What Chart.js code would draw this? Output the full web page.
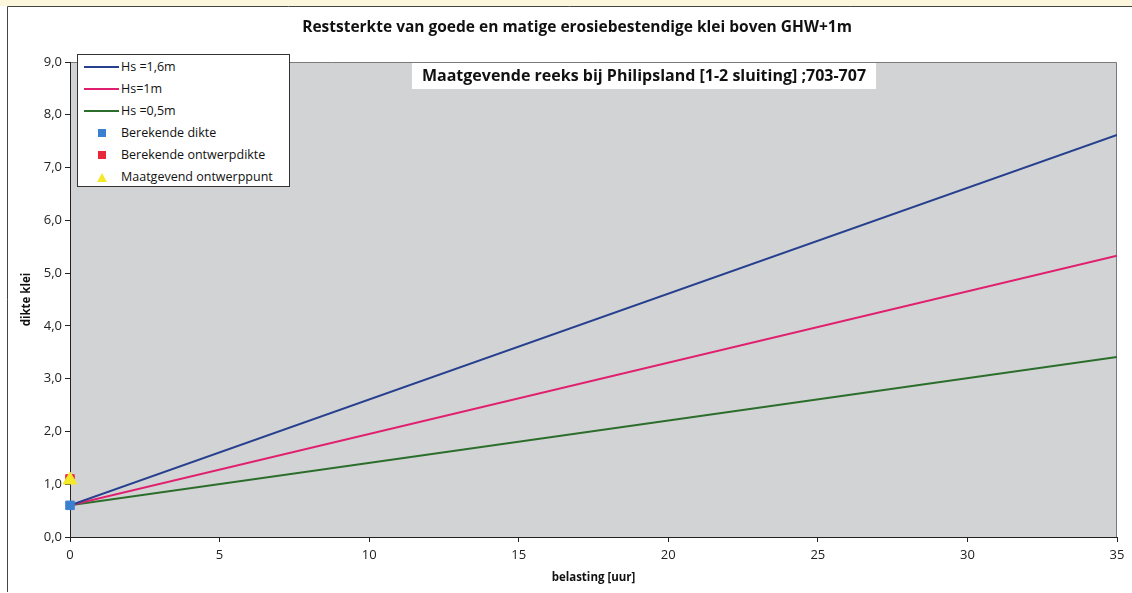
<!DOCTYPE html>
<html><head><meta charset="utf-8">
<script src="https://cdn.jsdelivr.net/npm/chart.js@4/dist/chart.umd.min.js"></script>
<style>
html,body{margin:0;padding:0;background:#fff;}
#wrap{position:relative;width:1132px;height:593px;}
#legend{position:absolute;left:77px;top:54px;width:213px;height:133px;background:#fff;border:1px solid #333;box-sizing:border-box;font:12.5px "Open Sans",sans-serif;color:#111;}
#legend .row{position:absolute;left:0;height:16px;line-height:16px;white-space:nowrap;}
#legend .ln{position:absolute;left:6px;top:7px;width:35px;height:2px;}
#legend .mk{position:absolute;left:20px;top:4px;width:8px;height:8px;}
#legend .tri{position:absolute;left:19px;top:4px;width:0;height:0;border-left:5px solid transparent;border-right:5px solid transparent;border-bottom:9px solid #f5ea2a;}
#legend .tx{position:absolute;left:43px;top:0;}
</style></head>
<body><div id="wrap"><canvas id="c" width="1132" height="593"></canvas><div id="legend"></div></div>
<script>
const chartTitle = 'Reststerkte van goede en matige erosiebestendige klei boven GHW+1m';
const subTitle = 'Maatgevende reeks bij Philipsland [1-2 sluiting] ;703-707';
const xTitle = 'belasting [uur]';
const yTitle = 'dikte klei';
const seriesNames = ['Hs =1,6m', 'Hs=1m', 'Hs =0,5m', 'Berekende dikte', 'Berekende ontwerpdikte', 'Maatgevend ontwerppunt'];
const lineX = [0, 35];
const hs16Y = [0.6, 7.62];
const hs10Y = [0.6, 5.33];
const hs05Y = [0.6, 3.41];
const pointX = [0];
const dikteY = [0.6];
const ontwerpY = [1.1];
const maatgevendY = [1.08];
const colors = ['#263f8e', '#e0206e', '#2b6e2b', '#3b7fd0', '#e8283a', '#f5ea2a'];

function pts(xs, ys){ return xs.map((x,i)=>({x:x, y:ys[i]})); }

const bgPlugin = {
  id:'bg',
  beforeDraw(chart){
    const {ctx, chartArea:a} = chart;
    ctx.save();
    ctx.fillStyle = '#fbf6dc';
    ctx.fillRect(0,0,1132,6);
    ctx.strokeStyle = '#444'; ctx.lineWidth = 1;
    ctx.beginPath(); ctx.moveTo(7.5,592); ctx.lineTo(7.5,6.5); ctx.lineTo(1132,6.5); ctx.stroke();
    ctx.fillStyle = '#d2d3d4';
    ctx.fillRect(a.left, a.top, a.right-a.left, a.bottom-a.top);
    ctx.strokeStyle = '#7a7a7a';
    ctx.beginPath(); ctx.moveTo(a.left, a.top+0.5); ctx.lineTo(a.right-0.5, a.top+0.5); ctx.lineTo(a.right-0.5, a.bottom); ctx.stroke();
    ctx.restore();
  },
  afterDatasetsDraw(chart){
    const {ctx} = chart;
    ctx.save();
    ctx.font = 'bold 16px "Open Sans", sans-serif';
    const w = ctx.measureText(subTitle).width;
    const cx = 644;
    ctx.fillStyle = '#fff';
    ctx.fillRect(cx - w/2 - 10, 63, w + 20, 26);
    ctx.fillStyle = '#111';
    ctx.textAlign = 'center'; ctx.textBaseline = 'middle';
    ctx.fillText(subTitle, cx, 76);
    ctx.font = 'bold 15.5px "Open Sans", sans-serif';
    ctx.fillText(chartTitle, 577, 28);
    ctx.restore();
  }
};

const ds = [
  {label:seriesNames[0], data:pts(lineX,hs16Y), showLine:true, borderColor:colors[0], borderWidth:2, pointRadius:0, order:3},
  {label:seriesNames[1], data:pts(lineX,hs10Y), showLine:true, borderColor:colors[1], borderWidth:2, pointRadius:0, order:3},
  {label:seriesNames[2], data:pts(lineX,hs05Y), showLine:true, borderColor:colors[2], borderWidth:2, pointRadius:0, order:3},
  {label:seriesNames[3], data:pts(pointX,dikteY), pointStyle:'rect', pointRadius:6, backgroundColor:colors[3], borderColor:colors[3], clip:false, order:2},
  {label:seriesNames[4], data:pts(pointX,ontwerpY), pointStyle:'rect', pointRadius:6, backgroundColor:colors[4], borderColor:colors[4], clip:false, order:1},
  {label:seriesNames[5], data:pts(pointX,maatgevendY), pointStyle:'triangle', pointRadius:8, backgroundColor:colors[5], borderColor:colors[5], clip:false, order:0}
];

new Chart(document.getElementById('c'), {
  type:'scatter',
  data:{datasets:ds},
  plugins:[bgPlugin],
  options:{
    responsive:false, animation:false,
    layout:{padding:{left:10, right:15, top:62, bottom:8}},
    plugins:{legend:{display:false}, title:{display:false}, tooltip:{enabled:false}},
    scales:{
      x:{type:'linear', min:0, max:35,
        ticks:{stepSize:5, color:'#222', font:{family:'"Open Sans", sans-serif', size:13}, padding:5, maxRotation:0},
        grid:{drawOnChartArea:false, drawTicks:true, tickLength:5, color:'#222'},
        border:{color:'#222', width:1},
        title:{display:true, text:xTitle, color:'#111', font:{family:'"Open Sans", sans-serif', size:11.5, weight:'bold'}, padding:{top:2,bottom:0}},
        afterFit(s){ s.height = 48; }
      },
      y:{min:0, max:9,
        ticks:{stepSize:1, color:'#222', font:{family:'"Open Sans", sans-serif', size:13}, padding:3,
          callback:v=>v.toFixed(1).replace('.', ',')},
        grid:{drawOnChartArea:false, drawTicks:true, tickLength:5, color:'#222'},
        border:{color:'#222', width:1},
        title:{display:true, text:yTitle, color:'#111', font:{family:'"Open Sans", sans-serif', size:11.5, weight:'bold'}, padding:{top:10,bottom:4}},
        afterFit(s){ s.width = 60; }
      }
    }
  }
});

const leg = document.getElementById('legend');
seriesNames.forEach((n,i)=>{
  const r = document.createElement('div');
  r.className='row'; r.style.top = (4 + i*22) + 'px';
  let m;
  if(i<3){ m = '<div class="ln" style="background:'+colors[i]+'"></div>'; }
  else if(i<5){ m = '<div class="mk" style="background:'+colors[i]+'"></div>'; }
  else { m = '<div class="tri"></div>'; }
  r.innerHTML = m + '<span class="tx">'+n+'</span>';
  leg.appendChild(r);
});
</script></body></html>
